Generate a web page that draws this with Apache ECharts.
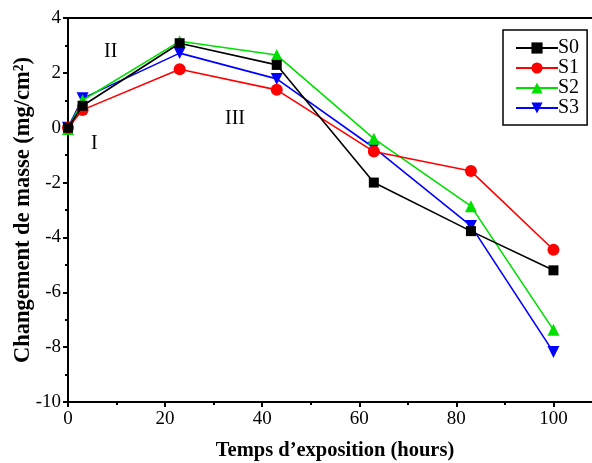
<!DOCTYPE html>
<html>
<head>
<meta charset="utf-8">
<script src="https://cdn.jsdelivr.net/npm/echarts@6/dist/echarts.min.js"></script>
<style>html,body{margin:0;padding:0;background:#fff;}#c{width:592px;height:463px;}</style>
</head>
<body>
<div id="c"></div>
<script>
const xValues = [0, 3, 23, 43, 63, 83, 100];
const seriesNames = ['S0', 'S1', 'S2', 'S3'];
const S0 = [0, 0.8, 3.08, 2.29, -2.0, -3.77, -5.2];
const S1 = [0, 0.65, 2.13, 1.38, -0.87, -1.58, -4.45];
const S2 = [-0.05, 1.0, 3.15, 2.65, -0.4, -2.86, -7.37];
const S3 = [0, 1.07, 2.72, 1.78, -0.73, -3.58, -8.18];
const xTicks = [0, 20, 40, 60, 80, 100];
const yTicks = [-10, -8, -6, -4, -2, 0, 2, 4];
const annotationTexts = ['II', 'I', 'III'];

const colors = ['#000000', '#ff0000', '#00e000', '#0000ff'];
const symbols = ['rect', 'circle', 'triangle', 'triangle'];
const rotates = [0, 0, 0, 180];
const allData = [S0, S1, S2, S3];

const chart = echarts.init(document.getElementById('c'));
const font = '"Liberation Serif", "Times New Roman", serif';
chart.setOption({
  animation: false,
  grid: {left: 68, right: -10, top: 18, bottom: 61, outerBoundsMode: 'none', containLabel: false,
    show: true, borderColor: '#000', borderWidth: 2},
  legend: {
    left: 503, top: 30, orient: 'vertical',
    data: seriesNames,
    borderColor: '#000', borderWidth: 1.5, padding: [8, 8, 7, 12],
    itemGap: 0, itemWidth: 42, itemHeight: 14,
    textStyle: {fontFamily: font, fontSize: 20, lineHeight: 18, color: '#000', padding: [0, 0, 0, -5]}
  },
  xAxis: {
    type: 'value', min: 0, max: 110, interval: 20,
    name: 'Temps d\u2019exposition (hours)', nameLocation: 'middle', nameGap: 38, nameMoveOverlap: false,
    nameTextStyle: {fontFamily: font, fontSize: 20.5, fontWeight: 'bold', color: '#000'},
    axisLine: {onZero: false, lineStyle: {color: '#000', width: 2}},
    axisTick: {show: true, length: 5, lineStyle: {color: '#000', width: 2}},
    minorTick: {show: true, splitNumber: 2, length: 3, lineStyle: {color: '#000', width: 2}},
    splitLine: {show: false},
    axisLabel: {fontFamily: font, fontSize: 19, color: '#000', margin: 8,
      formatter: v => xTicks.includes(v) ? String(v) : ''}
  },
  yAxis: {
    type: 'value', min: -10, max: 4, interval: 2,
    name: 'Changement de masse (mg/cm\u00b2)', nameLocation: 'middle', nameGap: 33, nameMoveOverlap: false,
    nameTextStyle: {fontFamily: font, fontSize: 22.5, fontWeight: 'bold', color: '#000'},
    axisLine: {onZero: false, lineStyle: {color: '#000', width: 2}},
    axisTick: {show: true, length: 5, lineStyle: {color: '#000', width: 2}},
    minorTick: {show: true, splitNumber: 2, length: 3, lineStyle: {color: '#000', width: 2}},
    splitLine: {show: false},
    axisLabel: {fontFamily: font, fontSize: 19, color: '#000', margin: 7,
      formatter: v => yTicks.includes(v) ? String(v) : ''}
  },
  series: seriesNames.map((n, i) => ({
    name: n, type: 'line',
    data: xValues.map((x, j) => [x, allData[i][j]]),
    symbol: symbols[i], symbolRotate: rotates[i],
    symbolSize: i === 0 ? 10 : 12,
    lineStyle: {color: colors[i], width: 1.6},
    itemStyle: {color: colors[i]},
    z: 10 - i
  }))
});
const annPos = [{left: 104, top: 42}, {left: 91, top: 134}, {left: 225, top: 109}];
chart.setOption({
  graphic: annotationTexts.map((t, i) => ({type: 'text', left: annPos[i].left, top: annPos[i].top,
    style: {text: t, font: '20px ' + font, fill: '#000'}}))
});
</script>
</body>
</html>
